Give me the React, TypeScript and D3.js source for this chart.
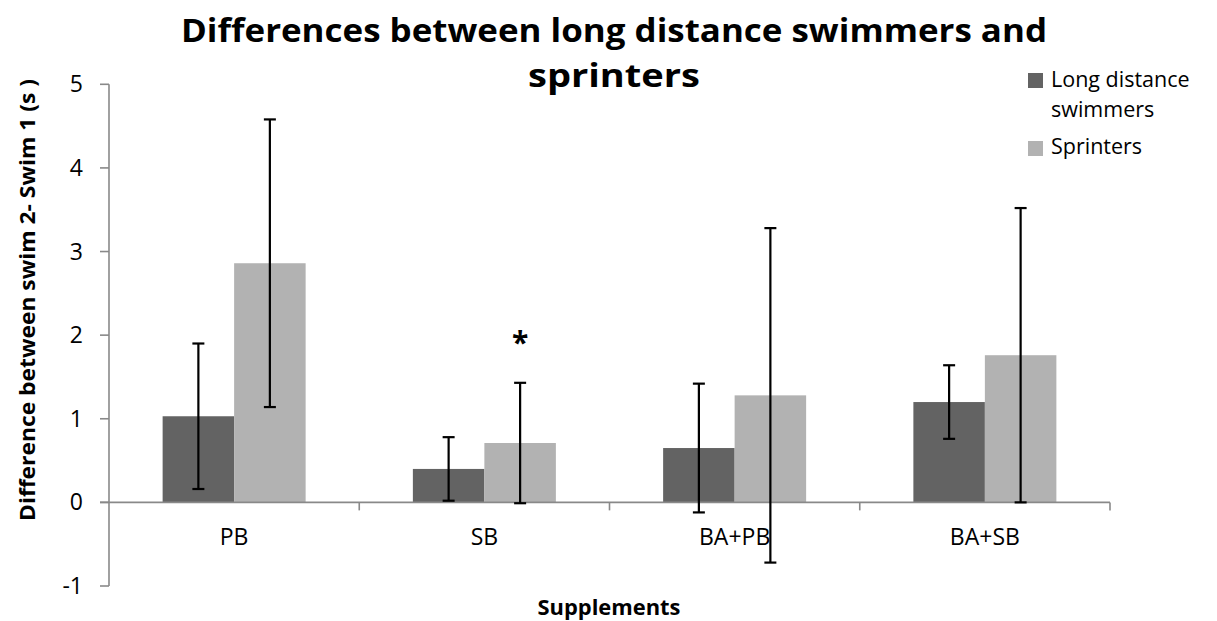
import React from "react";
import * as d3 from "d3";

// Supplement groups on the x axis
const categories = ["PB", "SB", "BA+PB", "BA+SB"];
// Series names
const seriesNames = ["Long distance swimmers", "Sprinters"];
// Mean difference (swim 2 - swim 1), seconds
const longDistance = [1.03, 0.4, 0.65, 1.2];
const sprinters = [2.86, 0.71, 1.28, 1.76];
// Error bar half-lengths, seconds
const longDistanceErr = [0.87, 0.38, 0.77, 0.44];
const sprintersErr = [1.72, 0.72, 2.0, 1.76];
// Y axis ticks
const yTicks = [-1, 0, 1, 2, 3, 4, 5];

const W = 1217;
const H = 621;
const FONT = "'Open Sans', 'Noto Sans', sans-serif";
const COLORS = ["#636363", "#b2b2b2"];
const AXIS = "#898989";

export default function App() {
  const left = 109;
  const right = 1110;
  const y = d3.scaleLinear().domain([-1, 5]).range([586, 84.3]);
  const x = d3.scaleBand<string>().domain(categories).range([left, right]).padding(0);
  const sub = d3
    .scaleBand<string>()
    .domain(seriesNames)
    .range([0, x.bandwidth()])
    .paddingInner(0)
    .paddingOuter(0.75);

  const series = [
    { name: seriesNames[0], values: longDistance, errs: longDistanceErr, color: COLORS[0] },
    { name: seriesNames[1], values: sprinters, errs: sprintersErr, color: COLORS[1] },
  ];

  const y0 = y(0);
  const boundaries = d3.range(categories.length + 1).map((i) => left + i * x.step());
  const capHalf = 6;

  // significance marker above the SB sprinters error bar
  const starCat = "SB";
  const starIdx = categories.indexOf(starCat);
  const starX = (x(starCat) as number) + (sub(seriesNames[1]) as number) + sub.bandwidth() / 2;
  const starY = y(sprinters[starIdx] + sprintersErr[starIdx]) - 30;

  return (
    <svg
      width={W}
      height={H}
      style={{ position: "absolute", left: 0, top: 0, background: "#fff" }}
      fontFamily={FONT}
    >
      {/* title */}
      <text x={614} y={42} textAnchor="middle" fontSize={33} fontWeight="bold" textLength={866} lengthAdjust="spacingAndGlyphs">
        Differences between long distance swimmers and
      </text>
      <text x={614} y={87} textAnchor="middle" fontSize={33} fontWeight="bold" textLength={172} lengthAdjust="spacingAndGlyphs">
        sprinters
      </text>

      {/* bars */}
      {series.map((s) =>
        categories.map((c, i) => {
          const bx = (x(c) as number) + (sub(s.name) as number);
          const v = s.values[i];
          return (
            <rect
              key={s.name + c}
              x={bx}
              y={Math.min(y(v), y0)}
              width={sub.bandwidth()}
              height={Math.abs(y(v) - y0)}
              fill={s.color}
            />
          );
        })
      )}

      {/* x axis line and ticks */}
      <line x1={left - 9} x2={right} y1={y0} y2={y0} stroke={AXIS} strokeWidth={1.6} />
      {boundaries.slice(1).map((bx, i) => (
        <line key={"xt" + i} x1={bx} x2={bx} y1={y0} y2={y0 + 8} stroke={AXIS} strokeWidth={1.6} />
      ))}

      {/* y axis */}
      <line x1={left} x2={left} y1={y(5)} y2={y(-1)} stroke={AXIS} strokeWidth={1.6} />
      {yTicks.map((t) => (
        <g key={"yt" + t}>
          <line x1={left - 9} x2={left} y1={y(t)} y2={y(t)} stroke={AXIS} strokeWidth={1.6} />
          <text x={83} y={y(t)} dy="0.35em" textAnchor="end" fontSize={23} fill="#000">
            {t}
          </text>
        </g>
      ))}

      {/* error bars */}
      {series.map((s) =>
        categories.map((c, i) => {
          const cx = (x(c) as number) + (sub(s.name) as number) + sub.bandwidth() / 2;
          const lo = y(s.values[i] - s.errs[i]);
          const hi = y(s.values[i] + s.errs[i]);
          return (
            <g key={"e" + s.name + c} stroke="#000" strokeWidth={2.2}>
              <line x1={cx} x2={cx} y1={hi} y2={lo} />
              <line x1={cx - capHalf} x2={cx + capHalf} y1={hi} y2={hi} />
              <line x1={cx - capHalf} x2={cx + capHalf} y1={lo} y2={lo} />
            </g>
          );
        })
      )}

      {/* significance marker */}
      <text x={starX} y={starY} textAnchor="middle" fontSize={30} fontWeight="bold">
        *
      </text>

      {/* category labels */}
      {categories.map((c) => (
        <text key={"cl" + c} x={(x(c) as number) + x.bandwidth() / 2} y={545} textAnchor="middle" fontSize={23}>
          {c}
        </text>
      ))}

      {/* axis titles */}
      <text x={609} y={615} textAnchor="middle" fontSize={22} fontWeight="bold" textLength={143} lengthAdjust="spacingAndGlyphs">
        Supplements
      </text>
      <text
        transform={`translate(35, 300) rotate(-90)`}
        textAnchor="middle"
        fontSize={22}
        fontWeight="bold"
        textLength={442}
        lengthAdjust="spacingAndGlyphs"
      >
        Difference between swim 2- Swim 1 (s )
      </text>

      {/* legend */}
      <rect x={1028} y={73} width={15} height={15} fill={COLORS[0]} />
      <text x={1051} y={87} fontSize={21.5}>Long distance</text>
      <text x={1051} y={117} fontSize={21.5}>swimmers</text>
      <rect x={1028} y={141} width={15} height={15} fill={COLORS[1]} />
      <text x={1051} y={154} fontSize={21.5}>Sprinters</text>
    </svg>
  );
}
